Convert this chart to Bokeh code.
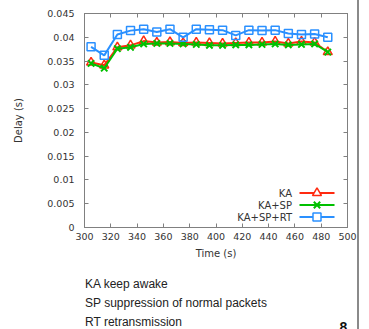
from bokeh.plotting import figure
from bokeh.layouts import row, column
from bokeh.models import Range1d, LinearAxis, Label, FixedTicker, ColumnDataSource, Spacer
from bokeh.embed import file_html
from bokeh.resources import INLINE

# ---- data ----
time_s = [305, 315, 325, 335, 345, 355, 365, 375, 385, 395,
          405, 415, 425, 435, 445, 455, 465, 475, 485]
delay_ka = [0.0347, 0.0341, 0.0379, 0.0383, 0.0392, 0.0389, 0.0390, 0.0388, 0.0389, 0.0388,
            0.0387, 0.0388, 0.0389, 0.0389, 0.0391, 0.0387, 0.0391, 0.0389, 0.0369]
delay_ka_sp = [0.0345, 0.0335, 0.0376, 0.0379, 0.0386, 0.0387, 0.0387, 0.0386, 0.0385, 0.0383,
               0.0383, 0.0384, 0.0384, 0.0385, 0.0386, 0.0384, 0.0385, 0.0386, 0.0369]
delay_ka_sp_rt = [0.0380, 0.0362, 0.0406, 0.0414, 0.0417, 0.0411, 0.0417, 0.0400, 0.0417, 0.0416,
                  0.0415, 0.0404, 0.0415, 0.0414, 0.0415, 0.0408, 0.0406, 0.0407, 0.0400]
series_names = ["KA", "KA+SP", "KA+SP+RT"]
x_ticks = [300, 320, 340, 360, 380, 400, 420, 440, 460, 480, 500]
y_ticks = [0, 0.005, 0.01, 0.015, 0.02, 0.025, 0.03, 0.035, 0.04, 0.045]
y_tick_labels = ["0", "0.005", "0.01", "0.015", "0.02", "0.025", "0.03", "0.035", "0.04", "0.045"]
notes = ["KA keep awake", "SP suppression of normal packets", "RT retransmission"]
page_number = "8"

# ---- style ----
RED, GREEN, BLUE = "#ff2a10", "#00c000", "#2a90ff"
AX = "#808080"
TXT = "#333333"
FONT = "DejaVu Sans"
COL_W = 357
CHART_H = 264
NOTES_H = 329 - CHART_H
B_LEFT, B_RIGHT = 84, 10
FW, FH = COL_W - B_LEFT - B_RIGHT, 214  # frame size in px

p = figure(width=COL_W, height=CHART_H, x_range=Range1d(300, 500), y_range=Range1d(0, 0.045),
           output_backend="svg", toolbar_location=None,
           min_border_left=B_LEFT, min_border_right=B_RIGHT, min_border_top=13, min_border_bottom=37,
           x_axis_label="Time (s)", y_axis_label="Delay (s)")
p.extra_x_ranges = {"px": Range1d(0, FW)}
p.extra_y_ranges = {"py": Range1d(0, FH)}
p.grid.visible = False
p.outline_line_color = AX
p.background_fill_color = "white"
p.border_fill_color = "white"

def style_axis(ax, show_labels=True):
    ax.axis_line_color = AX
    ax.major_tick_line_color = AX
    ax.major_tick_in = 4
    ax.major_tick_out = 0
    ax.minor_tick_line_color = None
    ax.major_label_text_font = FONT
    ax.major_label_text_font_size = "9.5px" if show_labels else "0px"
    ax.major_label_text_color = TXT
    ax.axis_label_text_font = FONT
    ax.axis_label_text_font_size = "10px"
    ax.axis_label_text_font_style = "normal"
    ax.axis_label_text_color = TXT

ylab = {t: l for t, l in zip(y_ticks, y_tick_labels)}
p.xaxis.ticker = FixedTicker(ticks=x_ticks)
p.yaxis.ticker = FixedTicker(ticks=y_ticks)
p.yaxis.major_label_overrides = ylab
style_axis(p.xaxis[0])
style_axis(p.yaxis[0])
p.xaxis.major_label_standoff = 5
p.xaxis.axis_label_standoff = 5
p.yaxis.major_label_standoff = 10
p.yaxis.axis_label_standoff = 20

# mirrored inward ticks on the top and right edges (gnuplot style)
top_ax = LinearAxis(ticker=FixedTicker(ticks=x_ticks), major_label_standoff=0)
right_ax = LinearAxis(ticker=FixedTicker(ticks=y_ticks), major_label_standoff=0)
style_axis(top_ax, False)
style_axis(right_ax, False)
p.add_layout(top_ax, "above")
p.add_layout(right_ax, "right")

src = ColumnDataSource(dict(t=time_s, ka=delay_ka, kasp=delay_ka_sp, kasprt=delay_ka_sp_rt))

p.line("t", "ka", source=src, line_color=RED, line_width=2)
p.scatter("t", "ka", source=src, marker="triangle", size=9, line_color=RED, fill_color=None, line_width=1.5)
p.line("t", "kasp", source=src, line_color=GREEN, line_width=2)
p.scatter("t", "kasp", source=src, marker="x", size=9, line_color=GREEN, line_width=2)
p.line("t", "kasprt", source=src, line_color=BLUE, line_width=2)
p.scatter("t", "kasprt", source=src, marker="square", size=8, line_color=BLUE, fill_color=None, line_width=1.5)

# ---- gnuplot-style key (text left of sample) in frame pixel coordinates ----
KEY_TEXT_RIGHT, KEY_X0, KEY_X1 = 207.5, 215, 250
key_rows = [34.5, 22.5, 10.5]
key_markers = ["triangle", "x", "square"]
key_colors = [RED, GREEN, BLUE]
for name, ry, mk, col in zip(series_names, key_rows, key_markers, key_colors):
    p.line([KEY_X0, KEY_X1], [ry, ry], x_range_name="px", y_range_name="py", line_color=col, line_width=2)
    if mk == "x":
        p.scatter([(KEY_X0 + KEY_X1) / 2], [ry], x_range_name="px", y_range_name="py", marker=mk,
                  size=9, line_color=col, line_width=2)
    else:
        p.scatter([(KEY_X0 + KEY_X1) / 2], [ry], x_range_name="px", y_range_name="py", marker=mk,
                  size=9 if mk == "triangle" else 8, line_color=col, fill_color="white", line_width=1.5)
    p.add_layout(Label(x=KEY_TEXT_RIGHT, y=ry, x_range_name="px", y_range_name="py", text=name,
                       text_align="right", text_baseline="middle", text_font=FONT,
                       text_font_size="10px", text_color=TXT))

# ---- notes below the chart (page-pixel x coordinates, y downward) ----
notes_fig = figure(width=COL_W, height=NOTES_H, x_range=Range1d(B_LEFT, COL_W - B_RIGHT),
                   y_range=Range1d(NOTES_H, 0),
                   output_backend="svg", toolbar_location=None,
                   min_border_left=B_LEFT, min_border_right=B_RIGHT, min_border_top=0, min_border_bottom=0,
                   x_axis_type=None, y_axis_type=None)
notes_fig.grid.visible = False
notes_fig.outline_line_color = None
NOTE_X = 84.5
note_rows = [19, 38, 57]
for txt, ny in zip(notes, note_rows):
    notes_fig.add_layout(Label(x=NOTE_X, y=ny, text=txt, text_align="left", text_baseline="middle",
                               text_font="Liberation Sans", text_font_size="12px", text_color="#222222"))
notes_fig.add_layout(Label(x=339, y=57, text=page_number, text_align="left", text_baseline="top",
                           text_font="Liberation Sans", text_font_size="14px", text_font_style="bold",
                           text_color="#111111"))

# ---- slide divider line ----
divider = Spacer(width=2, height=329, styles={"background-color": "#8a8a8a"})

layout = row(column(p, notes_fig, spacing=0), divider, spacing=0)

open("out.html", "w").write(file_html(layout, INLINE))
